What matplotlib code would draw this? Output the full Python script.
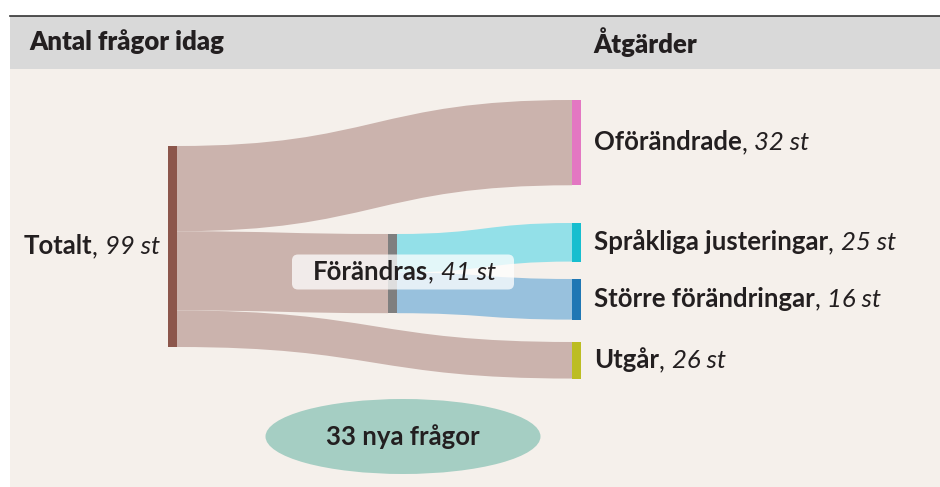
import matplotlib
matplotlib.use("Agg")
import matplotlib.pyplot as plt
import matplotlib.patches as mpatches
from matplotlib.path import Path
from matplotlib.offsetbox import TextArea, HPacker, AnnotationBbox

plt.rcParams["font.family"] = ["Lato", "DejaVu Sans"]

# Data (labels and counts as printed in the chart)
HEADER_LEFT = "Antal frågor idag"
HEADER_RIGHT = "Åtgärder"
TOTAL_LABEL = "Totalt"
TOTAL_COUNT = 99
CHANGED_LABEL = "Förändras"
CHANGED_COUNT = 41
OUTCOME_LABELS = ["Oförändrade", "Språkliga justeringar", "Större förändringar", "Utgår"]
OUTCOME_COUNTS = [32, 25, 16, 26]
# band sizes as drawn in the sankey
OUTCOME_FLOWS = [42, 19, 20, 18]
NEW_QUESTIONS = 33

# Styles
TEXT_COLOR = "#231f20"
BG_COLOR = "#f5f0eb"
HEADER_COLOR = "#d9d9d9"
SOURCE_COLOR = "#8c564b"
CHANGED_COLOR = "#7f7f7f"
OUTCOME_COLORS = ["#e377c2", "#17becf", "#1f77b4", "#bcbd22"]
BROWN_LINK = "#cbb3ad"
CHANGED_LINKS = ["#93e0e8", "#98c1dd"]
FS = 18.5
FS_HEAD = 18.5

# Layout (pixel space)
W, H = 940, 487
PX_PER_UNIT = 201 / TOTAL_COUNT
NODE_W = 9
X_SRC, X_MID, X_DST = 168, 388, 572
SRC_TOP = 146
MID_TOP = 234
DST_TOPS = [100, 223, 279, 342]


def band(ax, x0, y0, x1, y1, h, color):
    xm = (x0 + x1) / 2
    verts = [(x0, y0), (xm, y0), (xm, y1), (x1, y1),
             (x1, y1 + h), (xm, y1 + h), (xm, y0 + h), (x0, y0 + h), (x0, y0)]
    codes = [Path.MOVETO, Path.CURVE4, Path.CURVE4, Path.CURVE4,
             Path.LINETO, Path.CURVE4, Path.CURVE4, Path.CURVE4, Path.CLOSEPOLY]
    ax.add_patch(mpatches.PathPatch(Path(verts, codes), facecolor=color, edgecolor="none", lw=0))


def node(ax, x, y, h, color):
    ax.add_patch(mpatches.Rectangle((x, y), NODE_W, h, facecolor=color, edgecolor="none"))


def rich_label(ax, x, y, bold, count, align="left"):
    parts = [
        TextArea(bold, textprops=dict(fontsize=FS, fontweight="bold", color=TEXT_COLOR)),
        TextArea(", ", textprops=dict(fontsize=FS, color=TEXT_COLOR)),
        TextArea(f"{count} st", textprops=dict(fontsize=FS, fontstyle="italic", color=TEXT_COLOR)),
    ]
    box = HPacker(children=parts, align="baseline", pad=0, sep=0)
    ab = AnnotationBbox(box, (x, y), xycoords="data", frameon=False, pad=0,
                        box_alignment=(0 if align == "left" else 1, 0.5))
    ax.add_artist(ab)


fig = plt.figure(figsize=(W / 100, H / 100), dpi=100)
ax = fig.add_axes([0, 0, 1, 1])
ax.set_xlim(0, W)
ax.set_ylim(H, 0)
ax.axis("off")

# background panels
ax.add_patch(mpatches.Rectangle((10, 69), W - 10, H - 69, facecolor=BG_COLOR, edgecolor="none"))
ax.add_patch(mpatches.Rectangle((10, 15.5), W - 10, 53.5, facecolor=HEADER_COLOR, edgecolor="none"))
ax.plot([10, W], [15.5, 15.5], color="#333333", lw=1.2)
ax.text(29, 42, HEADER_LEFT, fontsize=FS_HEAD, fontweight="heavy", color=TEXT_COLOR, va="center")
ax.text(593, 42, HEADER_RIGHT, fontsize=FS_HEAD, fontweight="heavy", color=TEXT_COLOR, va="center")

# sizes
hs = [v * PX_PER_UNIT for v in OUTCOME_FLOWS]
h_total = sum(hs)
h_changed = hs[1] + hs[2]

# links from the source
y_src = SRC_TOP
band(ax, X_SRC + NODE_W, y_src, X_DST, DST_TOPS[0], hs[0], BROWN_LINK)
y_src += hs[0]
band(ax, X_SRC + NODE_W, y_src, X_MID, MID_TOP, h_changed, BROWN_LINK)
y_src += h_changed
band(ax, X_SRC + NODE_W, y_src, X_DST, DST_TOPS[3], hs[3], BROWN_LINK)

# links from the changed node
y_mid = MID_TOP
for i, col in zip([1, 2], CHANGED_LINKS):
    band(ax, X_MID + NODE_W, y_mid, X_DST, DST_TOPS[i], hs[i], col)
    y_mid += hs[i]

# nodes
node(ax, X_SRC, SRC_TOP, h_total, SOURCE_COLOR)
node(ax, X_MID, MID_TOP, h_changed, CHANGED_COLOR)
for top, h, col in zip(DST_TOPS, hs, OUTCOME_COLORS):
    node(ax, X_DST, top, h, col)

# labels
rich_label(ax, X_SRC - 8, SRC_TOP + h_total / 2, TOTAL_LABEL, TOTAL_COUNT, align="right")
for top, h, lab, cnt in zip(DST_TOPS, hs, OUTCOME_LABELS, OUTCOME_COUNTS):
    rich_label(ax, 594, top + h / 2, lab, cnt)

ax.add_patch(mpatches.FancyBboxPatch((292, 254.5), 222, 35, boxstyle="round,pad=0,rounding_size=6",
                                     facecolor="white", alpha=0.75, edgecolor="none"))
rich_label(ax, 313, 272, CHANGED_LABEL, CHANGED_COUNT)

# new questions bubble
ax.add_patch(mpatches.Ellipse((403, 436.5), 275, 75, facecolor="#a5cec3", edgecolor="none"))
ax.text(403, 437, f"{NEW_QUESTIONS} nya frågor", fontsize=FS, fontweight="bold",
        color=TEXT_COLOR, ha="center", va="center")

fig.savefig("out.png", dpi=100)
